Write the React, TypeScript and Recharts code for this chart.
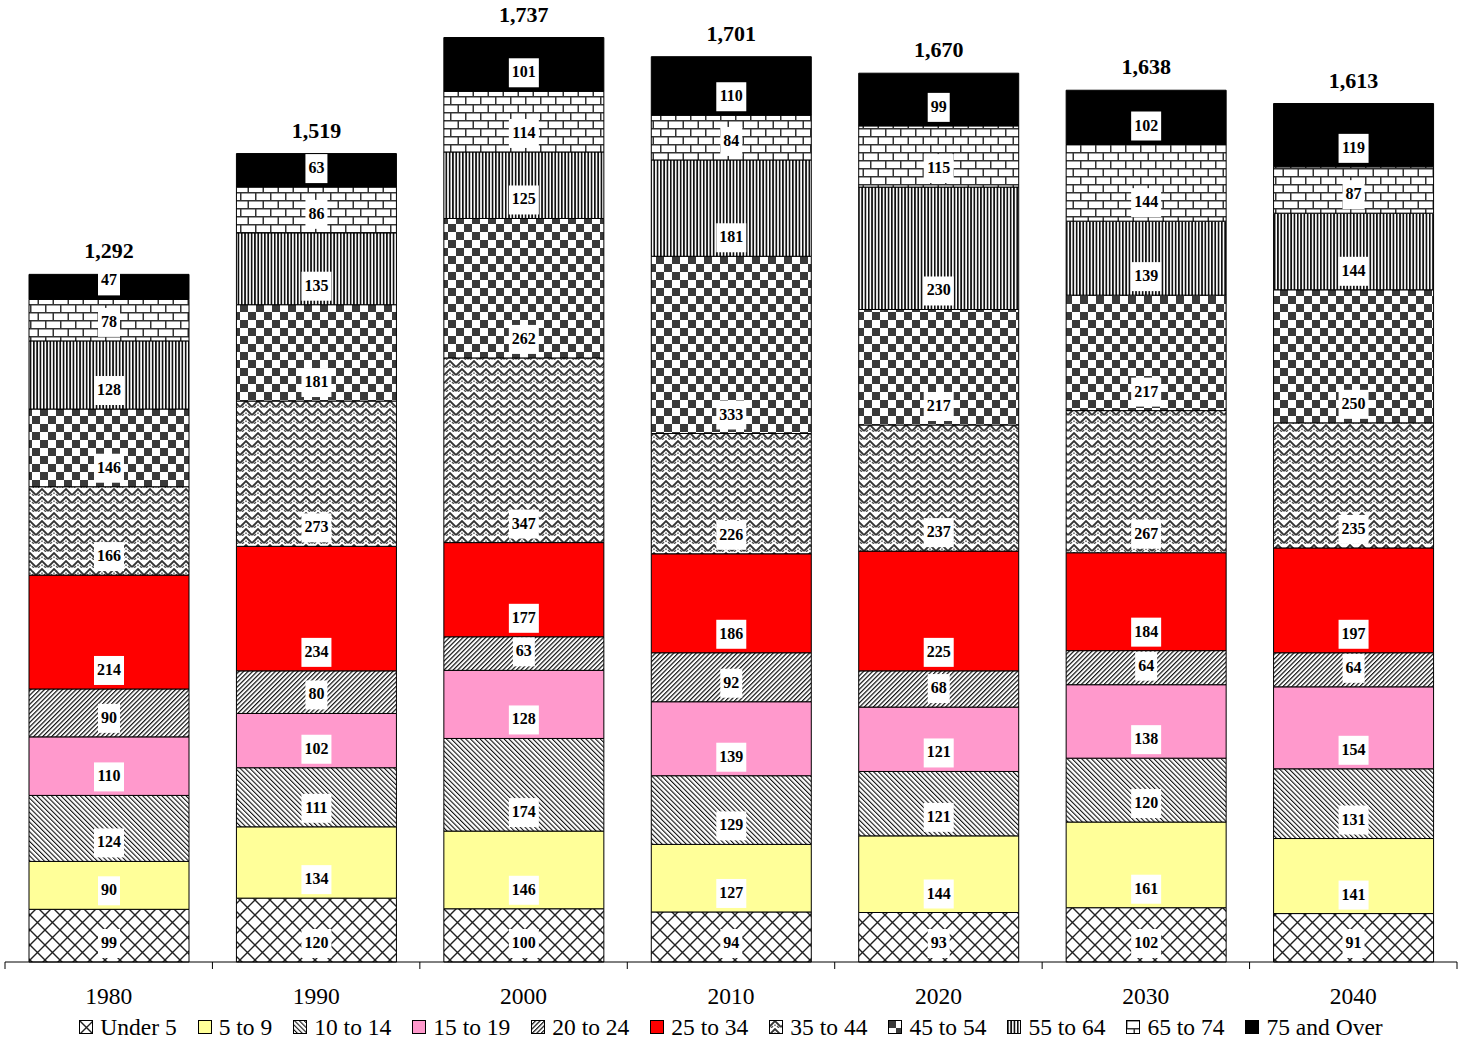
import { BarChart, Bar, XAxis, YAxis, Legend, LabelList } from "recharts";

const years = ["1980", "1990", "2000", "2010", "2020", "2030", "2040"];
const under5 = [99, 120, 100, 94, 93, 102, 91];
const age5to9 = [90, 134, 146, 127, 144, 161, 141];
const age10to14 = [124, 111, 174, 129, 121, 120, 131];
const age15to19 = [110, 102, 128, 139, 121, 138, 154];
const age20to24 = [90, 80, 63, 92, 68, 64, 64];
const age25to34 = [214, 234, 177, 186, 225, 184, 197];
const age35to44 = [166, 273, 347, 226, 237, 267, 235];
const age45to54 = [146, 181, 262, 333, 217, 217, 250];
const age55to64 = [128, 135, 125, 181, 230, 139, 144];
const age65to74 = [78, 86, 114, 84, 115, 144, 87];
const age75plus = [47, 63, 101, 110, 99, 102, 119];

const series = [
	{ key: "under5", name: "Under 5", values: under5, fill: "url(#pUnder5)" },
	{ key: "a5", name: "5 to 9", values: age5to9, fill: "#FFFF99" },
	{ key: "a10", name: "10 to 14", values: age10to14, fill: "url(#pDown)" },
	{ key: "a15", name: "15 to 19", values: age15to19, fill: "#FF99CC" },
	{ key: "a20", name: "20 to 24", values: age20to24, fill: "url(#pUp)" },
	{ key: "a25", name: "25 to 34", values: age25to34, fill: "#FF0000" },
	{ key: "a35", name: "35 to 44", values: age35to44, fill: "url(#pWeave)" },
	{ key: "a45", name: "45 to 54", values: age45to54, fill: "url(#pChecker)" },
	{ key: "a55", name: "55 to 64", values: age55to64, fill: "url(#pVert)" },
	{ key: "a65", name: "65 to 74", values: age65to74, fill: "url(#pBrick)" },
	{ key: "a75", name: "75 and Over", values: age75plus, fill: "#000000" },
];

const totals = years.map((_, i) =>
	series.reduce((sum, s) => sum + s.values[i], 0)
);

const data = years.map((year, i) => {
	const row: Record<string, string | number> = { year };
	series.forEach((s) => {
		row[s.key] = s.values[i];
	});
	return row;
});

const WIDTH = 1464;
const HEIGHT = 1039;
const MARGIN = { top: 4, right: 7, bottom: 0, left: 5 };
const BAND = (WIDTH - MARGIN.left - MARGIN.right) / years.length;
const FONT = "'Liberation Serif', 'Times New Roman', serif";

function SegmentLabel(props: any) {
	const { x, y, width, height, value } = props;
	const cx = x + width / 2;
	const cy = y + height - 19;
	const text = String(value);
	const w = text.length * 8 + 6;
	return (
		<g>
			<rect x={cx - w / 2} y={cy - 14} width={w} height={29} fill="#fff" />
			<text
				x={cx}
				y={cy + 5}
				textAnchor="middle"
				fontFamily={FONT}
				fontWeight="bold"
				fontSize={16}
				fill="#000"
			>
				{text}
			</text>
		</g>
	);
}

function TotalLabel(props: any) {
	const { x, y, width, index } = props;
	return (
		<text
			x={x + width / 2}
			y={y - 16}
			textAnchor="middle"
			fontFamily={FONT}
			fontWeight="bold"
			fontSize={22}
			fill="#000"
		>
			{totals[index].toLocaleString("en-US")}
		</text>
	);
}

function YearTick(props: any) {
	const { x, y, payload, index } = props;
	const left = x - BAND / 2;
	const right = x + BAND / 2;
	return (
		<g>
			<line x1={left} y1={y} x2={left} y2={y + 7} stroke="#000" />
			{index === years.length - 1 && (
				<line x1={right} y1={y} x2={right} y2={y + 7} stroke="#000" />
			)}
			<text
				x={x}
				y={y + 42}
				textAnchor="middle"
				fontFamily={FONT}
				fontSize={23.5}
				fill="#000"
			>
				{payload.value}
			</text>
		</g>
	);
}

function LegendContent() {
	return (
		<div
			style={{
				display: "flex",
				justifyContent: "center",
				gap: 21,
				fontFamily: FONT,
				fontSize: 23.5,
				lineHeight: "24px",
				height: 24,
				color: "#000",
			}}
		>
			{series.map((s) => (
				<span key={s.key} style={{ display: "flex", alignItems: "center" }}>
					<svg width={14} height={14} style={{ marginRight: 7 }}>
						<rect x={0.5} y={0.5} width={13} height={13} fill={s.fill} stroke="#000" />
					</svg>
					{s.name}
				</span>
			))}
		</div>
	);
}

export default function App() {
	return (
		<div style={{ position: "absolute", left: 0, top: 0, background: "#fff" }}>
			<BarChart width={WIDTH} height={HEIGHT} data={data} margin={MARGIN}>
				<defs>
					<pattern id="pUnder5" width="15" height="15" patternUnits="userSpaceOnUse">
						<rect width="15" height="15" fill="#fff" />
						<path d="M0,0 L15,15 M15,0 L0,15" stroke="#222" strokeWidth="1.4" />
					</pattern>
					<pattern
						id="pDown"
						width="3.4"
						height="10"
						patternUnits="userSpaceOnUse"
						patternTransform="rotate(-45)"
					>
						<rect width="3.4" height="10" fill="#fff" />
						<rect width="1.1" height="10" fill="#111" />
					</pattern>
					<pattern
						id="pUp"
						width="3.2"
						height="10"
						patternUnits="userSpaceOnUse"
						patternTransform="rotate(45)"
					>
						<rect width="3.2" height="10" fill="#fff" />
						<rect width="1.2" height="10" fill="#111" />
					</pattern>
					<pattern id="pWeave" width="12" height="8" patternUnits="userSpaceOnUse">
						<rect width="12" height="8" fill="#fff" />
						<path d="M0,7 L6,1 L12,7" stroke="#333" strokeWidth="1.8" fill="none" />
						<path d="M2,8 L4,6 M10,8 L8,6 M6,4.5 L6,6" stroke="#555" strokeWidth="1.4" fill="none" />
					</pattern>
					<pattern id="pChecker" width="16" height="16" patternUnits="userSpaceOnUse">
						<rect width="16" height="16" fill="#fff" />
						<rect x="0" y="0" width="8" height="8" fill="#3a3a3a" />
						<rect x="8" y="8" width="8" height="8" fill="#3a3a3a" />
					</pattern>
					<pattern id="pVert" width="3.3" height="10" patternUnits="userSpaceOnUse">
						<rect width="3.3" height="10" fill="#fff" />
						<rect width="1.7" height="10" fill="#111" />
					</pattern>
					<pattern id="pBrick" width="15" height="16" patternUnits="userSpaceOnUse">
						<rect width="15" height="16" fill="#fff" />
						<path
							d="M0,0.75 H15 M0,8.75 H15 M0.75,0 V8 M8.25,8 V16"
							stroke="#333"
							strokeWidth="1.5"
						/>
					</pattern>
				</defs>
				<XAxis
					dataKey="year"
					height={53}
					axisLine={{ stroke: "#000" }}
					tickLine={false}
					tickSize={0}
					tickMargin={0}
					tick={<YearTick />}
					interval={0}
				/>
				<YAxis hide domain={[0, 1800]} />
				<Legend
					verticalAlign="bottom"
					content={<LegendContent />}
					wrapperStyle={{ height: 24 }}
				/>
				{series.map((s, si) => (
					<Bar
						key={s.key}
						dataKey={s.key}
						name={s.name}
						stackId="pop"
						fill={s.fill}
						stroke="#000"
						strokeWidth={1}
						barSize={160}
						isAnimationActive={false}
					>
						<LabelList dataKey={s.key} content={<SegmentLabel />} />
						{si === series.length - 1 && <LabelList content={<TotalLabel />} />}
					</Bar>
				))}
			</BarChart>
		</div>
	);
}
